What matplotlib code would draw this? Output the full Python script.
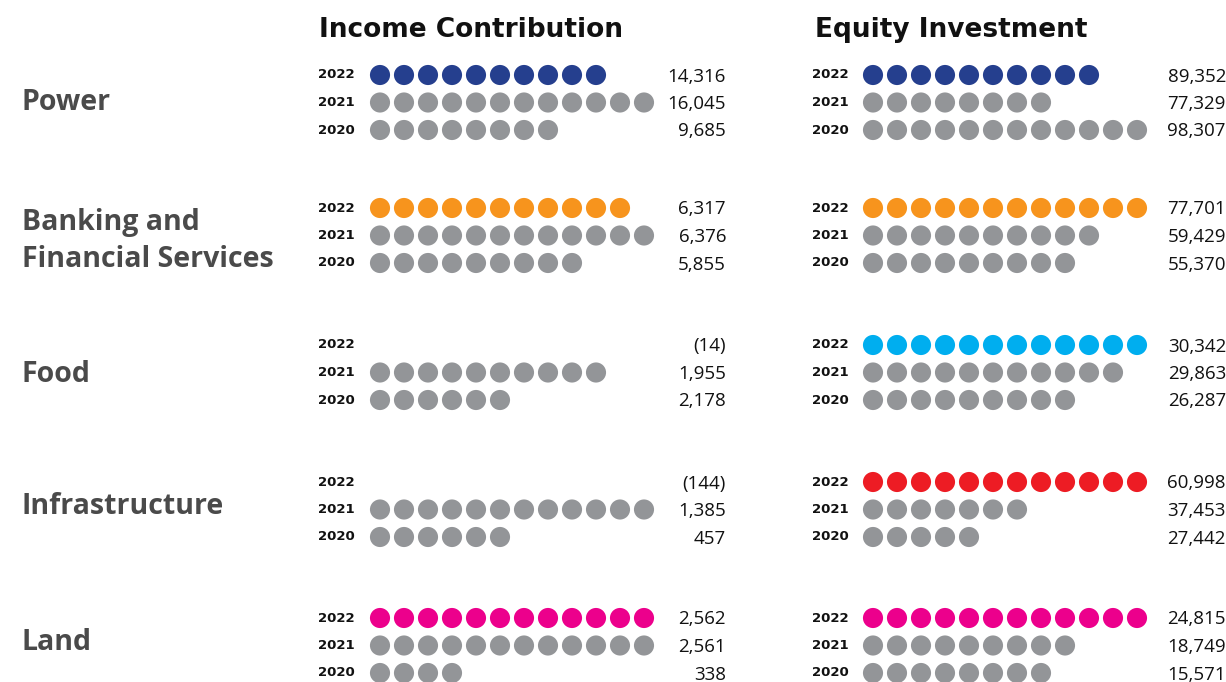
import matplotlib.pyplot as plt

categories = ['Power', 'Banking and\nFinancial Services', 'Food', 'Infrastructure', 'Land']
years = ['2022', '2021', '2020']
colors = ['#253f8e', '#f7941d', '#00aeef', '#ed1c24', '#ec008c']
grey = '#939598'

# values per category, rows are 2022, 2021, 2020
income = [[14316, 16045, 9685],
          [6317, 6376, 5855],
          [-14, 1955, 2178],
          [-144, 1385, 457],
          [2562, 2561, 338]]
income_dots = [[10, 12, 8],
               [11, 12, 9],
               [0, 10, 6],
               [0, 12, 6],
               [12, 12, 4]]

equity = [[89352, 77329, 98307],
          [77701, 59429, 55370],
          [30342, 29863, 26287],
          [60998, 37453, 27442],
          [24815, 18749, 15571]]
equity_dots = [[10, 8, 12],
               [12, 10, 9],
               [12, 11, 9],
               [12, 7, 5],
               [12, 9, 8]]


def fmt(v):
    if v < 0:
        return '({:,})'.format(-v)
    return '{:,}'.format(v)


fig = plt.figure(figsize=(12.26, 6.82), dpi=100)
ax = fig.add_axes([0, 0, 1, 1])
ax.set_xlim(0, 1226)
ax.set_ylim(682, 0)
ax.axis('off')

group_top = [75, 208, 345, 482, 618]
row_gap = 27.5
dot_gap = 24
panels = [(income, income_dots, 380, 355, 726, 'Income Contribution', 471),
          (equity, equity_dots, 873, 849, 1226, 'Equity Investment', 951)]

for vals, dots, x0, year_x, val_x, title, title_x in panels:
    ax.text(title_x, 30, title, ha='center', va='center', fontsize=19,
            fontweight='bold', family='DejaVu Sans', color='#111111')
    for i in range(len(categories)):
        for j in range(len(years)):
            y = group_top[i] + j * row_gap
            c = colors[i] if j == 0 else grey
            n = dots[i][j]
            if n > 0:
                xs = [x0 + k * dot_gap for k in range(n)]
                ax.scatter(xs, [y] * n, s=210, color=c, edgecolors='none')
            ax.text(year_x, y, years[j], ha='right', va='center', fontsize=9.5,
                    fontweight='bold', family='DejaVu Sans', color='#111111')
            ax.text(val_x, y + 1.5, fmt(vals[i][j]), ha='right', va='center',
                    fontsize=13.5, family='Open Sans', color='#111111')

label_y = [102, 241, 374, 507, 643]
for i, cat in enumerate(categories):
    ax.text(22, label_y[i], cat, ha='left', va='center', fontsize=20.5,
            fontweight='bold', family='Open Sans', color='#4a4a4a',
            linespacing=1.4)

fig.savefig('out.png', dpi=100)
